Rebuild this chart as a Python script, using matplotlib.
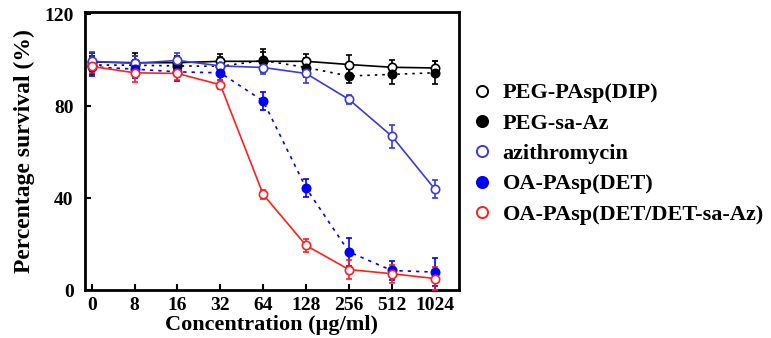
import numpy as np
import matplotlib
matplotlib.use("Agg")
import matplotlib.pyplot as plt

plt.rcParams['font.family'] = ['Liberation Serif', 'DejaVu Serif']
plt.rcParams['font.weight'] = 'bold'

conc_labels = ['0', '8', '16', '32', '64', '128', '256', '512', '1024']

# survival (%) and error bars
dip = [99.3, 99.0, 99.0, 99.6, 99.6, 99.6, 98.2, 97.0, 96.7]
dip_err = [4, 4, 3, 3, 4, 3, 4, 3, 3]
saaz = [98.0, 97.9, 97.6, 97.4, 100.0, 96.9, 93.2, 93.9, 94.6]
saaz_err = [4, 4, 4, 4, 5, 4, 3, 4, 5]
azi = [99.6, 98.7, 100.0, 97.6, 96.9, 94.3, 83.0, 67.0, 44.0]
azi_err = [4, 3, 3, 3, 3, 4, 2, 5, 4]
det = [97.2, 96.2, 95.0, 94.6, 82.3, 44.4, 16.6, 8.5, 7.8]
det_err = [4, 4, 4, 3, 4, 4, 6, 4, 6]
detaz = [97.4, 94.6, 94.3, 89.4, 41.6, 19.4, 8.9, 7.1, 5.0]
detaz_err = [3, 4, 3, 2, 2, 3, 4, 4, 5]

x = np.arange(len(conc_labels))

fig = plt.figure(figsize=(7.71, 3.38), dpi=100)
ax = fig.add_axes([0.110, 0.142, 0.485, 0.822])

series = [
    (dip, dip_err, 'PEG-PAsp(DIP)', 'black', 'white', '-'),
    (saaz, saaz_err, 'PEG-sa-Az', 'black', 'black', (0, (1.5, 3))),
    (azi, azi_err, 'azithromycin', '#3b3bdc', 'white', '-'),
    (det, det_err, 'OA-PAsp(DET)', '#0000ff', '#0000ff', (0, (2, 3))),
    (detaz, detaz_err, 'OA-PAsp(DET/DET-sa-Az)', '#ff2020', 'white', '-'),
]

handles = []
for vals, err, name, col, face, ls in series:
    ax.errorbar(x, vals, yerr=err, color=col, ls=ls, lw=1.2, capsize=2.5,
                elinewidth=1.2, capthick=1.2, marker='o', ms=6,
                mfc=face, mec=col, mew=1.2, clip_on=False, zorder=3)
    h, = ax.plot([], [], ls='none', marker='o', ms=8, mfc=face, mec=col,
                 mew=1.4, label=name)
    handles.append(h)

ax.set_xlim(-0.16, 8.56)
ax.set_ylim(0, 121)
ax.set_xticks(x)
ax.set_xticklabels(conc_labels)
ax.set_yticks([0, 40, 80, 120])
ax.tick_params(direction='in', length=4, width=1.5, labelsize=14, top=False, right=False)
ax.tick_params(axis='x', pad=5)
ax.tick_params(axis='y', pad=8)
for lab in ax.get_xticklabels() + ax.get_yticklabels():
    lab.set_fontweight('bold')
for sp in ax.spines.values():
    sp.set_linewidth(2)

ax.set_xlabel('Concentration (\u00b5g/ml)', fontsize=16, fontweight='bold', labelpad=1)
ax.set_ylabel('Percentage survival (%)', fontsize=17, fontweight='bold', labelpad=7)

fig.legend(handles=handles, loc='upper left', bbox_to_anchor=(0.613, 0.755),
           frameon=False, borderpad=0, borderaxespad=0, handlelength=0.8,
           handletextpad=0.55, labelspacing=0.44,
           prop={'family': 'Liberation Serif', 'weight': 'bold', 'size': 16})

fig.savefig('out.png', dpi=100)
